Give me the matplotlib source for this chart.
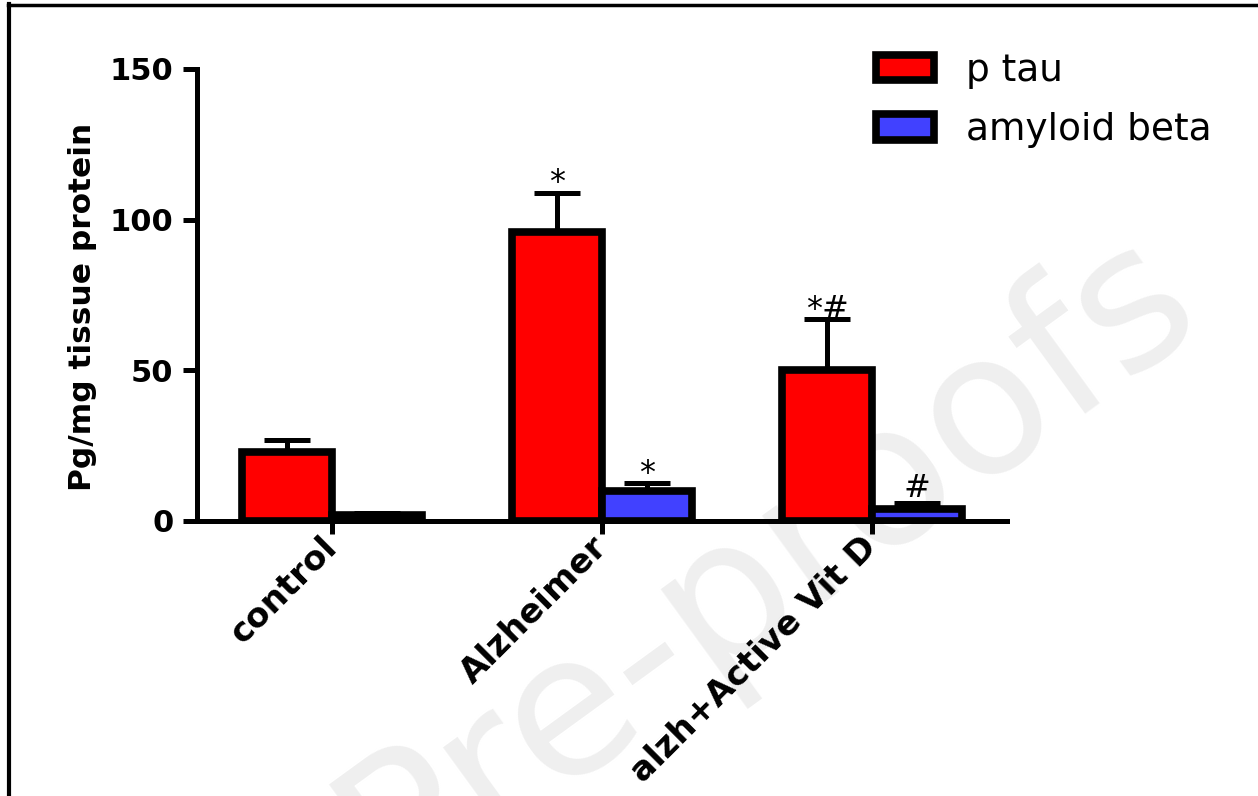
import numpy as np
import matplotlib
matplotlib.use("Agg")
import matplotlib.pyplot as plt
from matplotlib.lines import Line2D

categories = ['control', 'Alzheimer', 'alzh+Active Vit D']
ptau = [23, 96, 50]
ptau_err = [4, 13, 17]
abeta = [2, 10, 4]
abeta_err = [0.5, 2.5, 2]
ptau_marks = ['', '*', '*#']
abeta_marks = ['', '*', '#']
series_labels = ['p tau', 'amyloid beta']
yticks = [0, 50, 100, 150]

RED = '#FF0000'
BLUE = '#4141FF'

plt.rcParams['font.family'] = ['DejaVu Sans']

fig = plt.figure(figsize=(12.58, 7.96), dpi=100)
fig.patch.set_facecolor('white')

# watermark
fig.text(0.962, 0.585, 'Journal Pre-proofs', fontsize=142, color='#EFEFEF',
         rotation=36, ha='right', va='baseline', rotation_mode='anchor', zorder=-5)

# frame lines (top and left)
fig.add_artist(Line2D([7.5/1258, 1.0], [1 - 4.5/796, 1 - 4.5/796], color='black', lw=2.5,
                      transform=fig.transFigure))
fig.add_artist(Line2D([9/1258, 9/1258], [0, 1 - 3.5/796], color='black', lw=3.0,
                      transform=fig.transFigure))

ax = fig.add_axes([197/1258, 1 - 521/796, (1007 - 197)/1258, (521 - 69)/796])
ax.patch.set_alpha(0)

x = np.arange(len(categories))
w = 1/3
b1 = ax.bar(x - w/2, ptau, w, color=RED, edgecolor='black', linewidth=5.5, zorder=3)
b2 = ax.bar(x + w/2, abeta, w, color=BLUE, edgecolor='black', linewidth=5.5, zorder=3)
ax.errorbar(x - w/2, ptau, yerr=[np.zeros(len(x)), ptau_err], fmt='none', ecolor='black',
            elinewidth=3.6, capsize=16.5, capthick=3.6, zorder=2)
ax.errorbar(x + w/2, abeta, yerr=[np.zeros(len(x)), abeta_err], fmt='none', ecolor='black',
            elinewidth=3.6, capsize=16.5, capthick=3.6, zorder=2)

for xi, v, e, m in zip(x - w/2, ptau, ptau_err, ptau_marks):
    if m:
        ax.text(xi, v + e + 0.5, m, ha='center', va='baseline', fontsize=23, zorder=4)
for xi, v, e, m in zip(x + w/2, abeta, abeta_err, abeta_marks):
    if m:
        off = 0.3 if m == '*' else 2.0
        ax.text(xi, v + e + off, m, ha='center', va='baseline', fontsize=23, zorder=4)

ax.set_xlim(-0.5, 2.5)
ax.set_ylim(0, 150)
ax.set_yticks(yticks)
ax.set_xticks(x)
ax.set_xticklabels(categories, rotation=45, ha='right', va='center', rotation_mode='anchor',
                   fontsize=24.5, fontweight='bold')
for lab in ax.get_yticklabels():
    lab.set_fontweight('bold')
    lab.set_fontsize(22)

for s in ['top', 'right']:
    ax.spines[s].set_visible(False)
for s in ['left', 'bottom']:
    ax.spines[s].set_linewidth(3.6)
ax.tick_params(axis='y', length=10, width=3.6, pad=7)
ax.tick_params(axis='x', length=9, width=3.6, pad=6)

fig.text(83/1258, 1 - 307/796, 'Pg/mg tissue protein', rotation=90, ha='center', va='center',
         fontsize=22.5, fontweight='bold')

ax.legend([b1, b2], series_labels, loc='upper left', bbox_to_anchor=(876/1258, 1 - 53/796),
          bbox_transform=fig.transFigure, frameon=False, fontsize=27, handlelength=1.55,
          handleheight=0.66, handletextpad=0.85, labelspacing=0.62, borderpad=0,
          borderaxespad=0)

fig.savefig('out.png', dpi=100, facecolor='white')
